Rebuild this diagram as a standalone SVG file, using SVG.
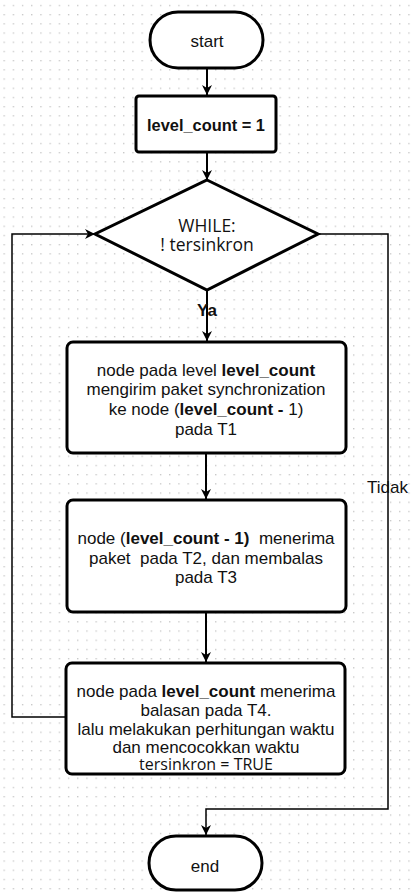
<svg xmlns="http://www.w3.org/2000/svg" width="414" height="892" viewBox="0 0 414 892">
  <defs>
    <pattern id="grid" x="3.5" y="4.8" width="9.2" height="9.2" patternUnits="userSpaceOnUse">
      <rect x="0" y="0" width="1.3" height="1.3" fill="#c4c4c4"/>
    </pattern>
    <marker id="arrow" viewBox="0 0 10 10" refX="10" refY="5" markerWidth="10" markerHeight="10" markerUnits="userSpaceOnUse" orient="auto">
      <path d="M0,0 L10,5 L0,10 L3,5 Z" fill="#000"/>
    </marker>
  </defs>
  <style>
    .shape { fill: #fff; stroke: #000; stroke-width: 3; }
    .conn { fill: none; stroke: #000; stroke-width: 2; }
    .loop { fill: none; stroke: #000; stroke-width: 1.5; }
    .t { font-family: "Liberation Sans", Arial, sans-serif; font-size: 17px; fill: #111; text-anchor: middle; }
    .alt { font-family: "Open Sans", "Noto Sans", sans-serif; font-size: 16px; fill: #111; text-anchor: middle; }
    .big { font-size: 17.5px; }
    .b { font-weight: bold; }
  </style>

  <rect width="414" height="892" fill="#fff"/>
  <rect width="414" height="892" fill="url(#grid)"/>

  <!-- connectors -->
  <g id="connectors">
    <path class="conn" d="M207,68 V95" marker-end="url(#arrow)"/>
    <path class="conn" d="M207,152 V180" marker-end="url(#arrow)"/>
    <path class="conn" d="M207,290 V341" marker-end="url(#arrow)"/>
    <path class="conn" d="M206,453 V499" marker-end="url(#arrow)"/>
    <path class="conn" d="M206,612 V662" marker-end="url(#arrow)"/>
    <path class="loop" d="M66,717 H12 V234 H95" marker-end="url(#arrow)"/>
    <path class="loop" d="M318,234 H388 V809 H206 V835" marker-end="url(#arrow)"/>
    <text class="t b" x="207" y="316">Ya</text>
    <text class="t" x="367" y="493" style="text-anchor:start">Tidak</text>
  </g>

  <g id="start">
    <rect class="shape" x="150" y="12" width="113" height="56" rx="28"/>
    <text class="t" x="207" y="47">start</text>
  </g>

  <g id="init">
    <rect class="shape" x="136" y="96" width="140" height="56" rx="3"/>
    <text class="t b" x="206" y="131" style="font-size:16.4px">level_count = 1</text>
  </g>

  <g id="while">
    <polygon class="shape" points="207,180 318,234 207,290 95,234"/>
    <text class="alt big" x="207" y="232">WHILE:</text>
    <text class="alt big" x="207" y="251">! tersinkron</text>
  </g>

  <g id="send">
    <rect class="shape" x="67" y="342" width="279" height="111" rx="6"/>
    <text class="t" x="206" y="376">node pada level <tspan class="b">level_count</tspan></text>
    <text class="t" x="206" y="395">mengirim paket synchronization</text>
    <text class="t" x="206" y="415">ke node (<tspan class="b">level_count -</tspan> 1)</text>
    <text class="t" x="206" y="435">pada T1</text>
  </g>

  <g id="reply">
    <rect class="shape" x="67" y="500" width="279" height="112" rx="6"/>
    <text class="t" x="206" y="544" xml:space="preserve">node (<tspan class="b">level_count - 1)</tspan>  menerima</text>
    <text class="t" x="206" y="564" xml:space="preserve">paket  pada T2, dan membalas</text>
    <text class="t" x="206" y="583">pada T3</text>
  </g>

  <g id="receive">
    <rect class="shape" x="66" y="663" width="279" height="111" rx="6"/>
    <text class="t" x="206" y="697">node pada <tspan class="b">level_count</tspan> menerima</text>
    <text class="t" x="206" y="716">balasan pada T4.</text>
    <text class="t" x="206" y="735">lalu melakukan perhitungan waktu</text>
    <text class="t" x="206" y="753">dan mencocokkan waktu</text>
    <text class="alt" x="206" y="770">tersinkron = TRUE</text>
  </g>

  <g id="end">
    <rect class="shape" x="149" y="836" width="113" height="54" rx="27"/>
    <text class="t" x="205" y="872">end</text>
  </g>
</svg>
